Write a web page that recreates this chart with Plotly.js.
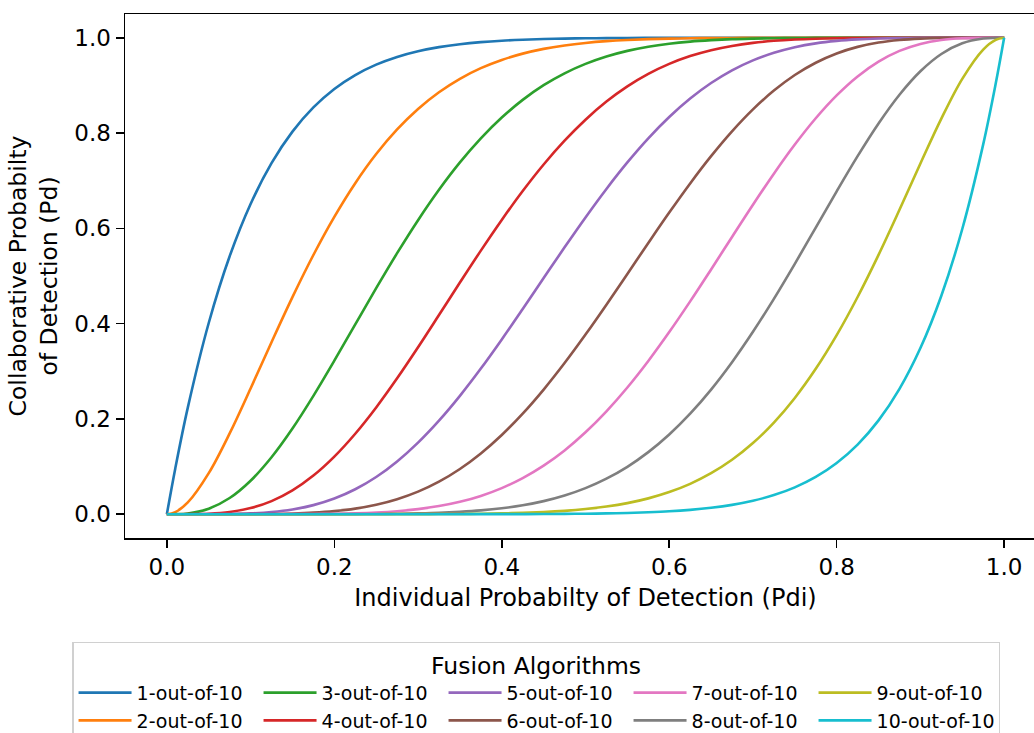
<!DOCTYPE html>
<html>
<head>
<meta charset="utf-8">
<script src="https://cdn.plot.ly/plotly-3.0.1.min.js"></script>
<style>
html,body{margin:0;padding:0;overflow:hidden;background:#fff;}
#chart{width:1050px;height:733px;}
</style>
</head>
<body>
<div id="chart"></div>
<script>
// Individual probability of detection (x)
const pdi = [0, 0.01, 0.025, 0.05, 0.075, 0.1, 0.125, 0.15, 0.175, 0.2, 0.225, 0.25, 0.275,
             0.3, 0.325, 0.35, 0.375, 0.4, 0.425, 0.45, 0.475, 0.5, 0.525, 0.55, 0.575,
             0.6, 0.625, 0.65, 0.675, 0.7, 0.725, 0.75, 0.775, 0.8, 0.825, 0.85, 0.875,
             0.9, 0.925, 0.95, 0.975, 0.99, 1.0];

// Collaborative probability of detection
const k1  = [0, .0956, .2237, .4013, .5414, .6513, .7369, .8031, .8539, .8926, .9218, .9437, .9599,
             .9718, .9804, .9865, .9909, .9940, .9960, .9975, .9984, .9990, .9994, .9997, .9998,
             .9999, .9999, 1, 1, 1, 1, 1, 1, 1, 1, 1, 1, 1, 1, 1, 1, 1, 1];
const k2  = [0, .0043, .0246, .0861, .1696, .2639, .3611, .4557, .5441, .6242, .6949, .7560, .8077,
             .8507, .8858, .9140, .9363, .9536, .9668, .9768, .9840, .9893, .9930, .9955, .9972,
             .9983, .9990, .9995, .9997, .9999, .9999, 1, 1, 1, 1, 1, 1, 1, 1, 1, 1, 1, 1];
const k3  = [0, .0001, .0016, .0115, .0339, .0702, .1195, .1798, .2484, .3222, .3984, .4744, .5479,
             .6172, .6810, .7384, .7890, .8327, .8697, .9005, .9254, .9453, .9608, .9726, .9814,
             .9877, .9921, .9951, .9972, .9984, .9992, .9996, .9998, .9999, 1, 1, 1, 1, 1, 1, 1, 1, 1];
const k4  = [0, 0, .0001, .0010, .0046, .0128, .0275, .0500, .0811, .1209, .1689, .2241, .2852,
             .3504, .4180, .4862, .5533, .6177, .6783, .7340, .7840, .8281, .8661, .8980, .9242,
             .9452, .9616, .9740, .9830, .9894, .9937, .9965, .9982, .9991, .9996, .9999, 1, 1, 1, 1, 1, 1, 1];
const k5  = [0, 0, 0, .0001, .0004, .0016, .0045, .0099, .0190, .0328, .0523, .0781, .1108,
             .1503, .1964, .2485, .3057, .3669, .4307, .4956, .5602, .6230, .6828, .7384, .7890,
             .8338, .8725, .9051, .9317, .9527, .9686, .9803, .9884, .9936, .9968, .9986, .9995, .9999, 1, 1, 1, 1, 1];
const k6  = [0, 0, 0, 0, 0, .0001, .0005, .0014, .0032, .0064, .0116, .0197, .0314,
             .0473, .0683, .0949, .1275, .1662, .2110, .2616, .3172, .3770, .4398, .5044, .5693,
             .6331, .6943, .7515, .8036, .8497, .8892, .9219, .9477, .9672, .9810, .9901, .9955, .9984, .9996, .9999, 1, 1, 1];
const k7  = [0, 0, 0, 0, 0, 0, 0, .0001, .0004, .0009, .0018, .0035, .0063,
             .0106, .0170, .0260, .0384, .0548, .0758, .1020, .1339, .1719, .2160, .2660, .3217,
             .3823, .4467, .5138, .5820, .6496, .7148, .7759, .8311, .8791, .9189, .9500, .9725, .9872, .9954, .9990, .9999, 1, 1];
const k8  = [0, 0, 0, 0, 0, 0, 0, 0, 0, .0001, .0002, .0004, .0008,
             .0016, .0028, .0049, .0079, .0123, .0186, .0274, .0392, .0547, .0746, .0995, .1303,
             .1673, .2110, .2616, .3190, .3828, .4521, .5256, .6016, .6778, .7516, .8202, .8805, .9298, .9661, .9885, .9984, .9999, 1];
const k9  = [0, 0, 0, 0, 0, 0, 0, 0, 0, 0, 0, 0, .0001,
             .0001, .0003, .0005, .0010, .0017, .0028, .0045, .0070, .0107, .0160, .0232, .0332,
             .0464, .0637, .0860, .1142, .1493, .1923, .2440, .3051, .3758, .4559, .5443, .6389, .7361, .8304, .9139, .9754, .9957, 1];
const k10 = [0, 0, 0, 0, 0, 0, 0, 0, 0, 0, 0, 0, 0,
             0, 0, 0, .0001, .0001, .0002, .0003, .0006, .0010, .0016, .0025, .0040,
             .0060, .0091, .0135, .0196, .0282, .0401, .0563, .0782, .1074, .1461, .1969, .2631, .3487, .4586, .5987, .7763, .9044, 1];

const seriesNames = ['1-out-of-10','2-out-of-10','3-out-of-10','4-out-of-10','5-out-of-10',
                     '6-out-of-10','7-out-of-10','8-out-of-10','9-out-of-10','10-out-of-10'];
const seriesValues = [k1, k2, k3, k4, k5, k6, k7, k8, k9, k10];
const colors = ['#1f77b4','#ff7f0e','#2ca02c','#d62728','#9467bd',
                '#8c564b','#e377c2','#7f7f7f','#bcbd22','#17becf'];
const tickVals = [0, 0.2, 0.4, 0.6, 0.8, 1.0];

// legend is filled column-wise (2 rows, 5 columns)
const legendRanks = [1, 6, 2, 7, 3, 8, 4, 9, 5, 10];

const FONT = 'DejaVu Sans, sans-serif';

const traces = seriesValues.map((vals, i) => ({
  x: pdi, y: vals, type: 'scatter', mode: 'lines', name: seriesNames[i],
  line: {color: colors[i], width: 2.6, shape: 'spline', smoothing: 1},
  legendrank: legendRanks[i]
}));

const axisCommon = {
  showgrid: false, zeroline: false, showline: true, mirror: true,
  linecolor: '#000', linewidth: 1.5,
  ticks: 'outside', ticklen: 8, tickwidth: 1.5, tickcolor: '#000',
  tickvals: tickVals, tickformat: '.1f',
  tickfont: {family: FONT, size: 23, color: '#000'},
  automargin: false
};

const layout = {
  width: 1050, height: 733,
  margin: {l: 125, r: 4, t: 13.5, b: 195, autoexpand: false},
  paper_bgcolor: '#fff', plot_bgcolor: '#fff',
  font: {family: FONT, color: '#000'},
  showlegend: true,
  xaxis: Object.assign({}, axisCommon, {
    range: [-0.05, 1.05],
    title: {text: 'Individual Probabilty of Detection (Pdi)', font: {family: FONT, size: 24, color: '#000'}, standoff: 10}
  }),
  yaxis: Object.assign({}, axisCommon, {
    range: [-0.05, 1.05],
    title: {text: 'Collaborative Probabilty<br>of Detection (Pd)', font: {family: FONT, size: 23.5, color: '#000'}, standoff: 10}
  }),
  legend: {
    orientation: 'h',
    x: -0.0575, xanchor: 'left',
    y: -0.198, yanchor: 'top',
    bgcolor: '#fff', bordercolor: '#d0d0d0', borderwidth: 1.5,
    itemwidth: 53,
    entrywidth: 117, entrywidthmode: 'pixels',
    font: {family: FONT, size: 19, color: '#000'},
    title: {text: 'Fusion Algorithms', side: 'top center', font: {family: FONT, size: 23.5, color: '#000'}},
    traceorder: 'normal'
  }
};

Plotly.newPlot('chart', traces, layout, {displayModeBar: false, staticPlot: true});
</script>
</body>
</html>
